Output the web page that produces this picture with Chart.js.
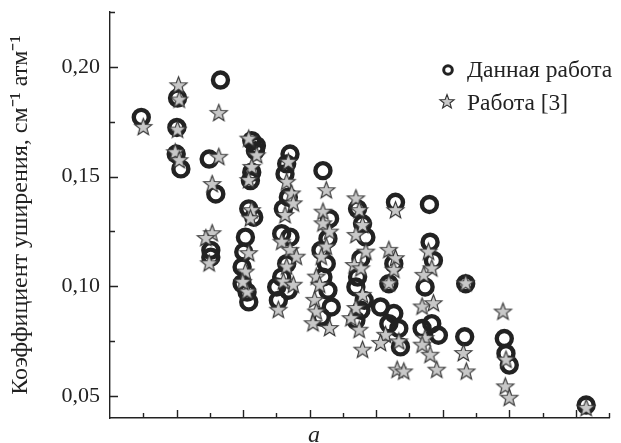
<!DOCTYPE html>
<html>
<head>
<meta charset="utf-8">
<script src="https://cdn.jsdelivr.net/npm/chart.js@4.4.1/dist/chart.umd.min.js"></script>
<style>
  html, body { margin: 0; padding: 0; background: #fff; }
  #wrap { width: 621px; height: 443px; position: relative; }
</style>
</head>
<body>
<div id="wrap"><canvas id="chart"></canvas></div>
<script>
// Данная работа (circles)
const thisWorkX = [0.94,
  2.03, 2.01, 1.99, 2.13,
  3.32, 2.98, 3.18, 3.03, 3.03,
  4.26, 4.40, 4.37, 4.26, 4.22, 4.17, 4.32, 4.07, 4.02, 3.97, 3.97, 4.12, 4.17,
  5.41, 5.31, 5.26, 5.36, 5.21, 5.16, 5.41, 5.31, 5.16, 5.01, 5.36, 5.06,
  6.40, 6.60, 6.55, 6.34, 6.50, 6.40, 6.55, 6.65, 6.35,
  7.44, 7.59, 7.69, 7.54, 7.44, 7.39, 7.64, 7.54, 7.39,
  8.58, 8.53, 8.38, 8.13, 8.53, 8.38, 8.68, 8.73,
  9.60, 9.62, 9.72, 9.47, 9.67, 9.38, 9.87,
  10.69, 10.66,
  11.85, 11.90, 12.00,
  14.31];
const thisWorkY = [0.177,
  0.1858, 0.1724, 0.1603, 0.1535,
  0.194, 0.158, 0.1421, 0.1164, 0.1133,
  0.1664, 0.1641, 0.1618, 0.152, 0.1482, 0.1353, 0.1315, 0.1224, 0.1156, 0.1088, 0.1012, 0.0974, 0.0929,
  0.1603, 0.1558, 0.1512, 0.1406, 0.1353, 0.124, 0.1224, 0.1103, 0.1042, 0.0997, 0.0982, 0.0936,
  0.1527, 0.1308, 0.1217, 0.1164, 0.1103, 0.1042, 0.0982, 0.0906, 0.086,
  0.1353, 0.1285, 0.1224, 0.1126, 0.1042, 0.0997, 0.0936, 0.0891, 0.0845,
  0.1383, 0.1103, 0.1012, 0.0906, 0.0876, 0.083, 0.0808, 0.0724,
  0.1373, 0.1201, 0.1118, 0.0997, 0.083, 0.0808, 0.0777,
  0.1012, 0.077,
  0.0762, 0.0694, 0.0641,
  0.0459];

// Работа [3] (stars)
const work3X = [1.0,
  2.06, 2.08, 2.03, 1.96, 2.08,
  3.27, 3.27, 3.07, 3.07, 2.88, 2.98,
  4.17, 4.41, 4.26, 4.17, 4.26, 4.22, 4.17, 4.07, 4.12, 3.99,
  5.36, 5.31, 5.46, 5.51, 5.26, 5.16, 5.41, 5.60, 5.31, 5.21, 5.51, 5.06,
  6.50, 6.40, 6.40, 6.60, 6.50, 6.35, 6.20, 6.30, 6.15, 6.20, 6.10, 6.60,
  7.39, 7.49, 7.59, 7.39, 7.69, 7.34, 7.54, 7.59, 7.39, 7.24, 7.49, 7.59,
  8.58, 8.38, 8.58, 8.53, 8.38, 8.28, 8.13, 8.68, 8.63, 8.83,
  9.57, 9.67, 9.43, 9.38, 9.72, 9.47, 9.38, 9.62, 9.82,
  10.69, 10.62, 10.71,
  11.81, 11.90, 11.88, 12.00,
  14.31];
const work3Y = [0.1724,
  0.1914, 0.1849, 0.1712, 0.1609, 0.1573,
  0.1788, 0.1588, 0.1464, 0.124, 0.1218, 0.1103,
  0.1671, 0.1595, 0.1542, 0.1482, 0.1345, 0.1308, 0.1149, 0.1065, 0.0974, 0.1018,
  0.1565, 0.1474, 0.1421, 0.1376, 0.1323, 0.1201, 0.1164, 0.1133, 0.1088, 0.102, 0.1005, 0.0891,
  0.1436, 0.1338, 0.1285, 0.1247, 0.1179, 0.1133, 0.1042, 0.1005, 0.0936, 0.0883, 0.083, 0.0808,
  0.1399, 0.1345, 0.1277, 0.1232, 0.1156, 0.1095, 0.108, 0.0959, 0.0899, 0.0853, 0.08, 0.0709,
  0.1345, 0.1164, 0.1126, 0.1073, 0.1012, 0.0777, 0.074, 0.0747, 0.0618, 0.061,
  0.1156, 0.108, 0.105, 0.0906, 0.0921, 0.0762, 0.0732, 0.0686, 0.0618,
  0.1012, 0.0694, 0.061,
  0.0883, 0.0664, 0.0542, 0.049,
  0.0444];

const seriesNames = ['Данная работа', 'Работа [3]'];
const yTicks = [0.05, 0.075, 0.10, 0.125, 0.15, 0.175, 0.20, 0.225];
const yLabelled = [0.05, 0.10, 0.15, 0.20];
const xTicks = [1, 2, 3, 4, 5, 6, 7, 8, 9, 10, 11, 12, 13, 14, 15];
const yTitle = 'Коэффициент уширения, см⁻¹ атм⁻¹';
const xTitle = 'a';

const ink = '#222';
const serif = "'Liberation Serif', 'Times New Roman', Times, serif";

// five-point star used as point style
const makeStar = (outer, lw) => {
  const size = Math.ceil(outer * 2 + lw * 2 + 2);
  const c = document.createElement('canvas');
  c.width = size; c.height = size;
  const g = c.getContext('2d');
  const cx = size / 2, cy = size / 2, inner = outer * 0.42;
  g.beginPath();
  for (let i = 0; i < 10; i++) {
    const r = i % 2 === 0 ? outer : inner;
    const a = -Math.PI / 2 + i * Math.PI / 5;
    g.lineTo(cx + r * Math.cos(a), cy + r * Math.sin(a));
  }
  g.closePath();
  g.fillStyle = '#c8c8c8';
  g.fill();
  g.lineWidth = lw;
  g.strokeStyle = '#333';
  g.stroke();
  return c;
};
const starBig = makeStar(9, 1.1);
const starSmall = makeStar(7.5, 1.1);

const zip = (xs, ys) => xs.map((x, i) => ({ x, y: ys[i] }));

// inward ticks, axis title and in-plot legend
const decorations = {
  id: 'decorations',
  afterDraw(chart) {
    const { ctx, chartArea, scales } = chart;
    ctx.save();
    ctx.strokeStyle = ink;
    ctx.lineWidth = 1.4;
    ctx.beginPath();
    yTicks.forEach(v => {
      const py = Math.round(scales.y.getPixelForValue(v)) + 0.5;
      const len = yLabelled.includes(v) ? 8 : 5;
      ctx.moveTo(chartArea.left, py);
      ctx.lineTo(chartArea.left + len, py);
    });
    xTicks.forEach(v => {
      const px = Math.round(scales.x.getPixelForValue(v)) + 0.5;
      const len = v % 2 === 0 ? 8 : 5;
      ctx.moveTo(px, chartArea.bottom);
      ctx.lineTo(px, chartArea.bottom - len);
    });
    ctx.stroke();

    // x title
    ctx.fillStyle = ink;
    ctx.font = `italic 24px ${serif}`;
    ctx.textAlign = 'center';
    ctx.textBaseline = 'alphabetic';
    ctx.fillText(xTitle, 314, 442);

    // legend
    ctx.font = `23.5px ${serif}`;
    ctx.textAlign = 'left';
    ctx.textBaseline = 'middle';
    ctx.lineWidth = 3;
    ctx.beginPath();
    ctx.arc(448, 70, 4.3, 0, Math.PI * 2);
    ctx.stroke();
    ctx.fillText(seriesNames[0], 467, 71);
    ctx.drawImage(starSmall, 447 - starSmall.width / 2, 102 - starSmall.height / 2);
    ctx.fillText(seriesNames[1], 467, 104);
    ctx.restore();
  }
};

new Chart(document.getElementById('chart'), {
  type: 'scatter',
  data: {
    datasets: [
      {
        label: seriesNames[0],
        data: zip(thisWorkX, thisWorkY),
        pointStyle: 'circle',
        pointRadius: 7.5,
        pointBorderWidth: 4.4,
        borderColor: ink,
        backgroundColor: 'rgba(0,0,0,0)',
        order: 1
      },
      {
        label: seriesNames[1],
        data: zip(work3X, work3Y),
        pointStyle: starBig,
        pointRadius: 9,
        order: 0
      }
    ]
  },
  options: {
    responsive: true,
    maintainAspectRatio: false,
    animation: false,
    events: [],
    layout: { padding: { top: 12, right: 6, left: 0, bottom: 0 } },
    plugins: { legend: { display: false }, tooltip: { enabled: false } },
    scales: {
      x: {
        type: 'linear',
        min: 0,
        max: 15,
        grid: { display: false, drawTicks: false },
        border: { display: true, color: ink, width: 1.4 },
        ticks: { display: false },
        afterFit: s => { s.height = 25; s.paddingLeft = 0; s.paddingRight = 0; }
      },
      y: {
        type: 'linear',
        min: 0.04,
        max: 0.225,
        grid: { display: false, drawTicks: false },
        border: { display: true, color: ink, width: 1.4 },
        afterBuildTicks: s => { s.ticks = yTicks.map(v => ({ value: v })); },
        ticks: {
          padding: 10,
          color: ink,
          font: { family: serif, size: 22 },
          callback: v => yLabelled.some(l => Math.abs(l - v) < 1e-6) ? v.toFixed(2).replace('.', ',') : ''
        },
        title: {
          display: true,
          text: yTitle,
          color: ink,
          font: { family: serif, size: 24 },
          padding: { top: 6, bottom: 0 }
        },
        afterFit: s => { s.width = 110; s.paddingTop = 0; s.paddingBottom = 0; }
      }
    }
  },
  plugins: [decorations]
});
</script>
</body>
</html>
